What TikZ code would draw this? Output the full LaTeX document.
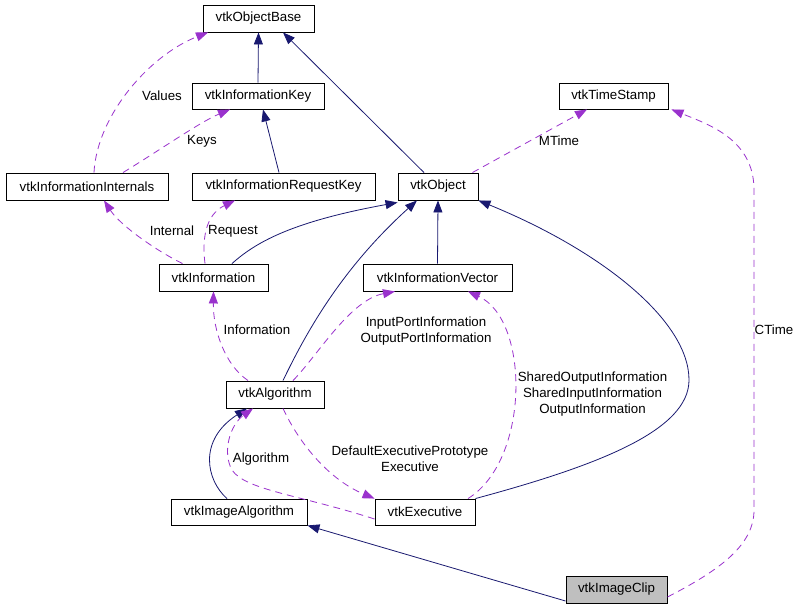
\documentclass[tikz,border=0pt]{standalone}
\usepackage{fontspec}
\setmainfont{Liberation Sans}
\usetikzlibrary{arrows.meta}
\definecolor{inhcol}{HTML}{191970}
\definecolor{usecol}{HTML}{9A32CD}
\definecolor{clipfill}{HTML}{BFBFBF}
\begin{document}
\begin{tikzpicture}[x=1pt,y=-1pt,
  cls/.style={draw=black, line width=0.9pt, inner sep=0pt, fill=white, font=\fontsize{13.3}{16}\selectfont},
  lbl/.style={inner sep=0pt, align=center, font=\fontsize{13.3}{16}\selectfont},
  inh/.style={draw=inhcol, line width=0.8pt, -{Triangle[length=12pt,width=9pt]}},
  use/.style={draw=usecol, line width=0.8pt, dash pattern=on 7pt off 5pt, -{Triangle[length=12pt,width=9pt]}}]
\useasboundingbox (0,0) rectangle (799,608);
\fill[white] (0,0) rectangle (799,608);
% nodes
\node[cls, minimum width=111, minimum height=27] (ob)  at (258.5,18.5) {vtkObjectBase};
\node[cls, minimum width=132, minimum height=26] (ik)  at (258,96) {vtkInformationKey};
\node[cls, minimum width=162, minimum height=27] (ii)  at (87,186.5) {vtkInformationInternals};
\node[cls, minimum width=183, minimum height=27] (irk) at (283.5,186.5) {vtkInformationRequestKey};
\node[cls, minimum width=80, minimum height=27]  (obj) at (438,186.5) {vtkObject};
\node[cls, minimum width=109, minimum height=26] (ts)  at (613.5,96) {vtkTimeStamp};
\node[cls, minimum width=109, minimum height=27] (inf) at (213.5,277.5) {vtkInformation};
\node[cls, minimum width=149, minimum height=27] (iv)  at (437.5,277.5) {vtkInformationVector};
\node[cls, minimum width=98, minimum height=27]  (alg) at (275,394.5) {vtkAlgorithm};
\node[cls, minimum width=136, minimum height=26] (ia)  at (239,512) {vtkImageAlgorithm};
\node[cls, minimum width=100, minimum height=26] (ex)  at (425,512) {vtkExecutive};
\node[cls, minimum width=101, minimum height=27, fill=clipfill] (ic) at (616.5,589.5) {vtkImageClip};
% inheritance edges
\draw[inh] (ik.north) -- (ob.south);
\draw[inh] ([xshift=-14]obj.north) -- ([xshift=24.5]ob.south);
\draw[inh] ([xshift=-4.5]irk.north) -- ([xshift=5]ik.south);
\draw[inh] ([xshift=18.5]inf.north) .. controls (255,243) and (290,222) .. ([yshift=-2]obj.south west);
\draw[inh] ([xshift=8]alg.north) .. controls (305,335) and (340,270) .. ([xshift=-21]obj.south);
\draw[inh] (iv.north) -- (obj.south);
\draw[inh] (ex.north east) .. controls (600,465) and (689,430) .. (689,380)
  .. controls (689,320) and (600,250) .. (obj.south east);
\draw[inh] ([xshift=-12]ia.north) .. controls (206,480) and (198,440) .. ([xshift=-28]alg.south);
\draw[inh] ([yshift=-11.5]ic.west) -- (ia.south east);
% usage edges
\draw[use] ([xshift=7]ii.north) .. controls (97,115) and (150,55) .. ([xshift=-50.5]ob.south);
\draw[use] ([xshift=36]ii.north) .. controls (160,150) and (200,122) .. ([xshift=-28]ik.south);
\draw[use] ([xshift=-31]inf.north) .. controls (155,250) and (120,225) .. ([xshift=17]ii.south);
\draw[use] ([xshift=-8.5]inf.north) .. controls (202,240) and (205,215) .. ([xshift=-48.5]irk.south);
\draw[use] ([xshift=-6]obj.north east) -- ([xshift=-26.5]ts.south);
\draw[use] ([yshift=-7.5]ic.east) .. controls (720,570) and (754,545) .. (754,510) -- (754,190)
  .. controls (754,140) and (710,125) .. ([xshift=3]ts.south east);
\draw[use] ([xshift=-27]alg.north) .. controls (225,365) and (213,330) .. (inf.south);
\draw[use] ([xshift=18]alg.north) .. controls (318,355) and (350,300) .. ([xshift=-42.5]iv.south);
\draw[use] ([xshift=8]alg.south) .. controls (300,445) and (330,480) .. (ex.north west);
\draw[use] ([yshift=-7]ex.west) .. controls (300,495) and (245,490) .. (232,470)
  .. controls (222,452) and (230,425) .. ([xshift=-22]alg.south);
\draw[use] ([xshift=43]ex.north) .. controls (530,460) and (530,320) .. ([xshift=30.5]iv.south);
% labels
\node[lbl] (lValues) at (162,96) {Values};
\node[lbl] (lKeys) at (202,141) {Keys};
\node[lbl] (lInternal) at (172,231) {Internal};
\node[lbl] (lRequest) at (233,231) {Request};
\node[lbl] (lMTime) at (559,141) {MTime};
\node[lbl] (lCTime) at (774,330) {CTime};
\node[lbl] (lInformation) at (257,330) {Information};
\node[lbl] (lPort) at (426,331) {InputPortInformation\\OutputPortInformation};
\node[lbl] (lShared) at (592.5,394.5) {SharedOutputInformation\\SharedInputInformation\\OutputInformation};
\node[lbl] (lDefault) at (410,459) {DefaultExecutivePrototype\\Executive};
\node[lbl] (lAlgorithm) at (261,459) {Algorithm};
\end{tikzpicture}
\end{document}
